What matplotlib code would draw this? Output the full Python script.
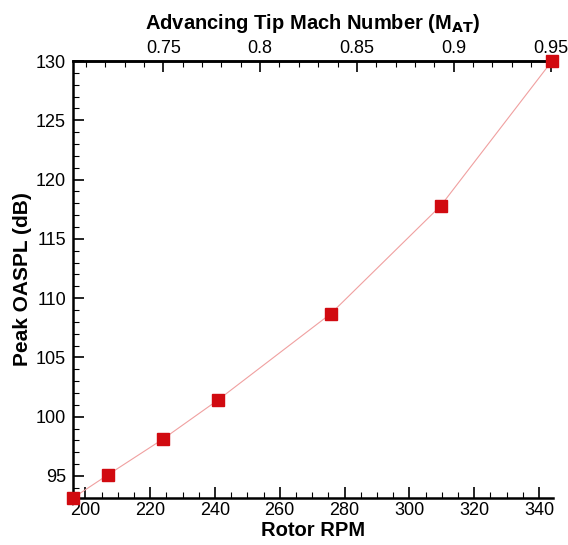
import matplotlib.pyplot as plt
from matplotlib.ticker import MultipleLocator

plt.rcParams['font.family'] = ['Liberation Sans', 'DejaVu Sans']

# peak OASPL vs rotor rpm
rotor_rpm = [196.2, 207.0, 223.9, 240.9, 275.8, 309.7, 344.0]
peak_oaspl = [93.15, 95.1, 98.1, 101.4, 108.7, 117.8, 130.0]

# advancing tip mach number is linear in rpm
mach_a = 0.3750
mach_b = 0.0016736
mach_ticks = [0.75, 0.8, 0.85, 0.9, 0.95]
mach_labels = ['0.75', '0.8', '0.85', '0.9', '0.95']

fig = plt.figure(figsize=(5.68, 5.45), dpi=100)
ax = fig.add_axes([0.1285, 0.0862, 0.845, 0.8018])

ax.plot(rotor_rpm, peak_oaspl, color='#f0a0a0', linewidth=0.8, zorder=2)
ax.plot(rotor_rpm, peak_oaspl, linestyle='none', marker='s', markersize=8.5,
        color='#d10a10', clip_on=False, zorder=3)

ax.set_xlim(196.2, 344.3)
ax.set_ylim(93.14, 130)
ax.xaxis.set_major_locator(MultipleLocator(20))
ax.xaxis.set_minor_locator(MultipleLocator(5))
ax.yaxis.set_major_locator(MultipleLocator(5))
ax.yaxis.set_minor_locator(MultipleLocator(1))
ax.tick_params(which='both', direction='in', labelsize=13, width=1.2)
ax.tick_params(which='major', length=8)
ax.tick_params(which='minor', length=4, width=0.8)
ax.tick_params(axis='x', pad=3)
ax.tick_params(axis='y', pad=5)
ax.spines['right'].set_visible(False)
for s in ['left', 'bottom', 'top']:
    ax.spines[s].set_linewidth(1.8)

ax.set_xlabel('Rotor RPM', fontsize=14.5, fontweight='bold', labelpad=1)
ax.set_ylabel('Peak OASPL (dB)', fontsize=15, fontweight='bold', labelpad=3)

top = ax.secondary_xaxis('top', functions=(lambda r: mach_a + mach_b * r,
                                           lambda m: (m - mach_a) / mach_b))
top.xaxis.set_minor_locator(MultipleLocator(0.01))
top.set_xticks(mach_ticks, mach_labels)
top.tick_params(which='both', direction='in', labelsize=13, width=1.2, pad=3)
top.tick_params(which='major', length=8)
top.tick_params(which='minor', length=4, width=0.8)
top.spines['top'].set_linewidth(1.8)
top.set_xlabel('Advancing Tip Mach Number (M$_{\\mathbf{AT}}$)', fontsize=14.5,
               fontweight='bold', labelpad=8)

fig.savefig('out.png', dpi=100)
